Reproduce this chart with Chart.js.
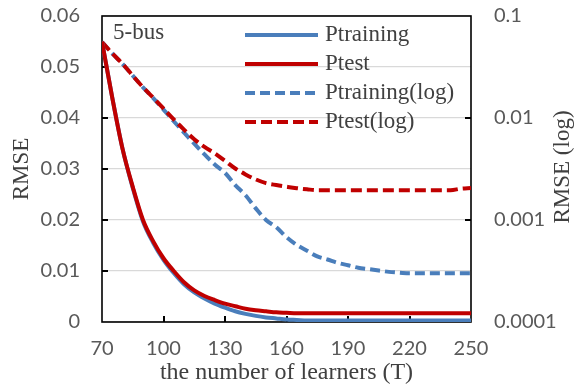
<!DOCTYPE html>
<html lang="en">
<head>
<meta charset="UTF-8">
<title>RMSE vs learners</title>
<script src="https://cdn.jsdelivr.net/npm/chart.js"></script>
<style>
  html, body { margin: 0; padding: 0; background: #fff; }
  #wrap { width: 576px; height: 388px; }
</style>
</head>
<body>
<div id="wrap"><canvas id="myChart" width="576" height="388"></canvas></div>
<script>
// number of learners T
var learners = [70, 75, 80, 85, 90, 95, 100, 105, 110, 115, 120, 125, 130, 135, 140, 145, 150, 155, 160, 165,
                170, 175, 180, 185, 190, 195, 200, 205, 210, 215, 220, 225, 230, 235, 240, 245, 250];

// RMSE, linear axis
var pTraining = [0.055, 0.044, 0.034, 0.0263, 0.0197, 0.0155, 0.0122, 0.0096, 0.0074, 0.0058, 0.0046, 0.0036, 0.0028, 0.0021, 0.0016, 0.0012, 0.0009, 0.0007, 0.0005, 0.0004,
                 0.0003, 0.0003, 0.0003, 0.0003, 0.0003, 0.0003, 0.0003, 0.0003, 0.0003, 0.0003, 0.0003, 0.0003, 0.0003, 0.0003, 0.0003, 0.0003, 0.0003];
var pTest = [0.055, 0.044, 0.034, 0.0265, 0.0200, 0.0158, 0.0125, 0.0100, 0.0078, 0.0062, 0.0051, 0.0043, 0.0036, 0.0031, 0.0026, 0.0023, 0.0021, 0.0019, 0.0018, 0.0017,
             0.0017, 0.0017, 0.0017, 0.0017, 0.0017, 0.0017, 0.0017, 0.0017, 0.0017, 0.0017, 0.0017, 0.0017, 0.0017, 0.0017, 0.0017, 0.0017, 0.0017];

// RMSE, log axis
var pTrainingLog = [0.0556, 0.043, 0.034, 0.026, 0.020, 0.0157, 0.0121, 0.0093, 0.0072, 0.0056, 0.0044, 0.0035, 0.0029, 0.0022, 0.00175, 0.0013, 0.00100, 0.00085, 0.00068, 0.00057,
                    0.00050, 0.00044, 0.00041, 0.00038, 0.00036, 0.00034, 0.00033, 0.00032, 0.00031, 0.000305, 0.0003, 0.0003, 0.0003, 0.0003, 0.0003, 0.0003, 0.0003];
var pTestLog = [0.0556, 0.043, 0.034, 0.026, 0.020, 0.0158, 0.0124, 0.0097, 0.0077, 0.0062, 0.0052, 0.0045, 0.0038, 0.0032, 0.0028, 0.0025, 0.0023, 0.0022, 0.00212, 0.00205,
                0.00200, 0.00196, 0.00196, 0.00196, 0.00196, 0.00196, 0.00196, 0.00196, 0.00196, 0.00196, 0.00196, 0.00196, 0.00196, 0.00196, 0.00196, 0.00203, 0.00206];

var xTicks = [70, 100, 130, 160, 190, 220, 250];
var yTicks = [0, 0.01, 0.02, 0.03, 0.04, 0.05, 0.06];
var yLogTicks = [0.0001, 0.001, 0.01, 0.1];

var BLUE = '#4a7ebb';
var RED = '#c00000';
var SERIF = '"Liberation Serif", "DejaVu Serif", serif';
var TXT = '#404040';

function pts(arr) {
    return learners.map(function (t, i) { return { x: t, y: arr[i] }; });
}

// keep the plot box where the layout puts it, no extra room for half labels
function fixV(width) {
    return function (s) {
        s.width = width;
        s.paddingTop = 0;
        s.paddingBottom = 0;
    };
}

// frame + inward tick marks, drawn under the lines
var frame = {
    id: 'frame',
    beforeDatasetsDraw: function (chart) {
        var ctx = chart.ctx, a = chart.chartArea;
        var sx = chart.scales.x, sy = chart.scales.y, sy2 = chart.scales.y2;
        ctx.save();
        ctx.strokeStyle = '#000';
        ctx.lineWidth = 1.6;
        ctx.strokeRect(a.left, a.top, a.right - a.left, a.bottom - a.top);
        ctx.lineWidth = 2;
        ctx.beginPath();
        yTicks.slice(1, -1).forEach(function (v) {
            var y = Math.round(sy.getPixelForValue(v));
            ctx.moveTo(a.left, y); ctx.lineTo(a.left + 6, y);
        });
        xTicks.slice(1, -1).forEach(function (v) {
            var x = Math.round(sx.getPixelForValue(v));
            ctx.moveTo(x, a.bottom); ctx.lineTo(x, a.bottom - 6);
        });
        yLogTicks.slice(1, -1).forEach(function (v) {
            var y = Math.round(sy2.getPixelForValue(v));
            ctx.moveTo(a.right, y); ctx.lineTo(a.right - 6, y);
        });
        ctx.stroke();
        ctx.restore();
    },
    afterDraw: function (chart) {
        var ctx = chart.ctx, a = chart.chartArea;
        ctx.save();
        ctx.fillStyle = TXT;
        ctx.font = '23px ' + SERIF;
        ctx.textBaseline = 'middle';
        ctx.textAlign = 'left';
        ctx.fillText('5-bus', a.left + 11, a.top + 17);

        // legend inside the plot
        chart.data.datasets.forEach(function (ds, i) {
            var y = a.top + 19 + i * 29;
            ctx.strokeStyle = ds.borderColor;
            ctx.lineWidth = 4;
            ctx.setLineDash(ds.borderDash || []);
            ctx.beginPath();
            ctx.moveTo(a.right - 226, y);
            ctx.lineTo(a.right - 153, y);
            ctx.stroke();
            ctx.setLineDash([]);
            ctx.fillStyle = TXT;
            ctx.fillText(ds.label, a.right - 146, y);
        });

        // right axis title, reading upwards
        ctx.translate(563, (a.top + a.bottom) / 2 - 2);
        ctx.rotate(-Math.PI / 2);
        ctx.textAlign = 'center';
        ctx.fillText('RMSE (log)', 0, 0);
        ctx.restore();
    }
};

var config = {
    type: 'line',
    data: {
        datasets: [
            { label: 'Ptraining', data: pts(pTraining), yAxisID: 'y', borderColor: BLUE, borderWidth: 4, order: 1 },
            { label: 'Ptest', data: pts(pTest), yAxisID: 'y', borderColor: RED, borderWidth: 4, order: 0 },
            { label: 'Ptraining(log)', data: pts(pTrainingLog), yAxisID: 'y2', borderColor: BLUE, borderWidth: 4, borderDash: [10, 5], order: 3 },
            { label: 'Ptest(log)', data: pts(pTestLog), yAxisID: 'y2', borderColor: RED, borderWidth: 4, borderDash: [11, 5], order: 2 }
        ]
    },
    options: {
        responsive: false,
        animation: false,
        layout: { padding: { top: 16, left: 0, right: 0, bottom: 0 } },
        elements: {
            point: { radius: 0 },
            line: { cubicInterpolationMode: 'monotone', fill: false }
        },
        plugins: { legend: { display: false }, tooltip: { enabled: false } },
        scales: {
            x: {
                type: 'linear', min: 70, max: 250,
                afterFit: function (s) { s.height = 66; s.paddingLeft = 0; s.paddingRight = 0; },
                afterBuildTicks: function (s) { s.ticks = xTicks.map(function (v) { return { value: v }; }); },
                grid: { display: false },
                border: { display: false },
                ticks: { color: '#595959', font: { family: 'Lato', size: 20 }, padding: 7, maxRotation: 0 },
                title: { display: true, text: 'the number of learners (T)', color: TXT,
                         font: { family: SERIF, size: 24 }, padding: { top: 0, bottom: 1 } }
            },
            y: {
                position: 'left', min: 0, max: 0.06,
                afterFit: fixV(102),
                afterBuildTicks: function (s) { s.ticks = yTicks.map(function (v) { return { value: v }; }); },
                grid: { color: '#d9d9d9', lineWidth: 1.3, drawTicks: false },
                border: { display: false },
                ticks: { color: '#595959', font: { family: 'Lato', size: 20 }, padding: 22,
                         callback: function (v) { return v === 0 ? '0' : v.toFixed(2); } },
                title: { display: true, text: 'RMSE', color: TXT,
                         font: { family: SERIF, size: 23 }, padding: { top: 8, bottom: 0 } }
            },
            y2: {
                type: 'logarithmic', position: 'right', min: 0.0001, max: 0.1,
                afterFit: fixV(105),
                afterBuildTicks: function (s) { s.ticks = yLogTicks.map(function (v) { return { value: v }; }); },
                grid: { display: false, drawTicks: false },
                border: { display: false },
                ticks: { color: '#595959', font: { family: 'Lato', size: 20 }, padding: 23,
                         callback: function (v) { return String(v); } }
            }
        }
    },
    plugins: [frame]
};

var myChart = new Chart(document.getElementById('myChart'), config);
</script>
</body>
</html>
